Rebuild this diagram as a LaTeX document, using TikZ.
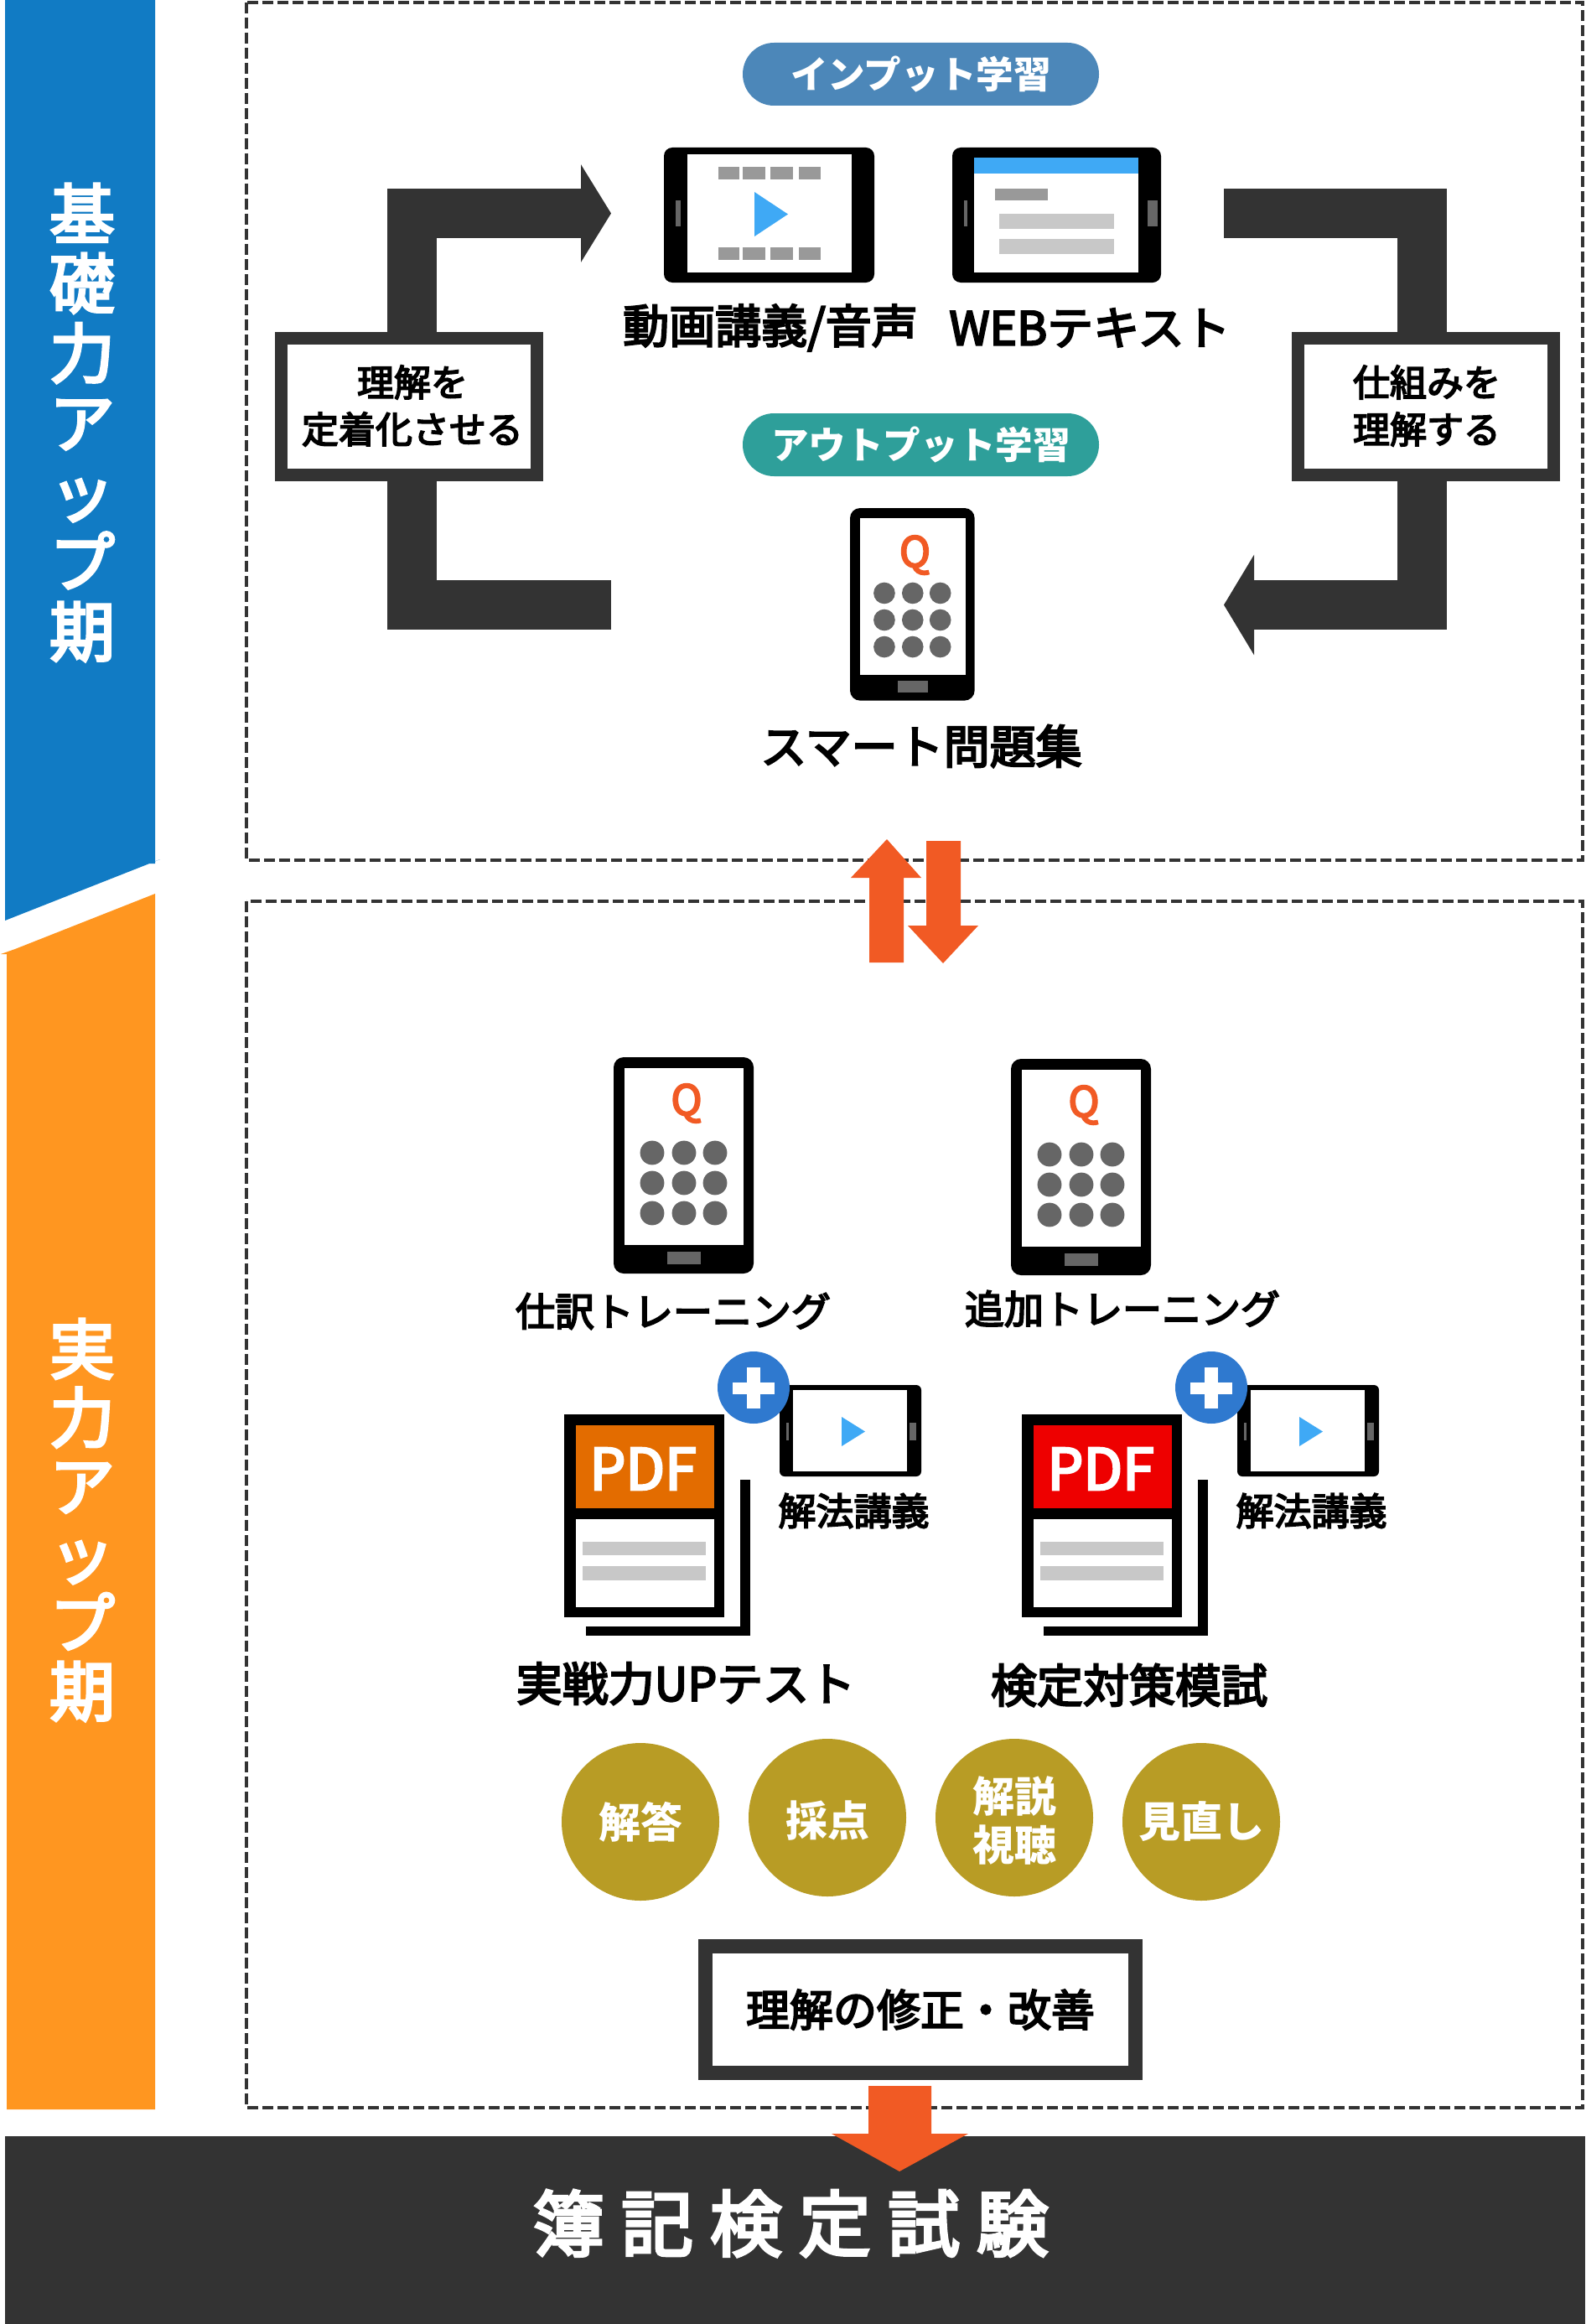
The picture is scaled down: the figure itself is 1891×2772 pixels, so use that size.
\documentclass[tikz,border=0pt]{standalone}
\usepackage{fontspec}
\setmainfont{Noto Sans CJK JP}
\newfontfamily\med{Noto Sans CJK JP}[FakeBold=4]
\usetikzlibrary{arrows.meta,calc,shapes.geometric}
\definecolor{dk}{HTML}{333333}
\definecolor{bandblue}{HTML}{117BC4}
\definecolor{bandorange}{HTML}{FF9620}
\definecolor{org}{HTML}{F15A24}
\definecolor{sky}{HTML}{3FA9F5}
\definecolor{g6}{HTML}{666666}
\definecolor{g9}{HTML}{999999}
\definecolor{gc}{HTML}{C8C8C8}
\definecolor{gold}{HTML}{B89C25}
\definecolor{plusblue}{HTML}{2F79CF}
\definecolor{pillblue}{HTML}{4C87B9}
\definecolor{pillteal}{HTML}{2E9F9A}
\definecolor{hdrorange}{HTML}{E36C00}
\definecolor{hdrred}{HTML}{EE0000}
\tikzset{
  dashbox/.style={draw=dk,line width=2pt,dash pattern=on 6.5pt off 2.5pt,inner sep=0pt,outer sep=0pt},
  blockline/.style={draw=dk,line width=29.5pt,line join=miter},
  msgbox/.style={draw=dk,line width=7.5pt,fill=white,inner sep=0pt,align=center},
  pill/.style={rectangle,rounded corners=18.7pt,inner sep=0pt,text=white,font=\fontsize{22.3}{26}\selectfont\bfseries,minimum width=212.5pt,minimum height=37.5pt},
  lab/.style={inner sep=0pt,font=\med\fontsize{27.5}{32}\selectfont},
  lablow/.style={inner sep=0pt,font=\med\fontsize{23.5}{28}\selectfont},
  labsm/.style={inner sep=0pt,font=\med\fontsize{22.5}{28}\selectfont},
  boxtxt/.style={inner sep=0pt,align=center,font=\med\fontsize{22}{28}\selectfont},
  goldc/.style={circle,fill=gold,inner sep=0pt,minimum size=94pt},
  goldtxt/.style={inner sep=0pt,text=white,align=center,font=\fontsize{25}{29}\selectfont\bfseries},
  sidetxt/.style={inner sep=0pt,text=white,align=center},
  plusc/.style={circle,fill=plusblue,inner sep=0pt,minimum size=43pt},
}
\newcommand{\phonefig}[5]{% name, x, y, scale, Q y
  \begin{scope}[shift={(#2,#3)},x=#4*0.5pt,y=-#4*0.5pt]
    \fill[black,rounded corners=6pt] (0,0) rectangle (167,258);
    \fill[white] (13,13) rectangle (155,224);
    \node[inner sep=0pt,text=org,font=\med\fontsize{25}{30}\selectfont] (#1q) at (87,#5) {Q};
    \foreach \cx in {46,84,121}\foreach \cy in {114,150,186}
      \fill[g6] (\cx,\cy) circle [radius=#4*7.2pt];
    \fill[g6] (64,232) rectangle (104,247);
  \end{scope}}
\newcommand{\docfig}[3]{% x offset, header colour, name
  \begin{scope}[shift={(#1,0)}]
    \fill[black] (883,1765) rectangle (895,1951);
    \fill[black] (699,1940) rectangle (895,1951);
    \fill[black] (673,1687) rectangle (864,1929);
    \fill[#2] (687,1700) rectangle (852,1799);
    \fill[white] (687,1812) rectangle (852,1917);
    \fill[gc] (695,1839) rectangle (842,1855);
    \fill[gc] (695,1868) rectangle (842,1885);
    \node[inner sep=0pt,text=white,font=\med\fontsize{34}{38}\selectfont] (#3pdf) at (767,1752) {PDF};
    \fill[black,rounded corners=3pt] (930,1652) rectangle (1099,1761);
    \fill[white] (946,1658) rectangle (1082,1755);
    \fill[sky] (1004,1690) -- (1032,1707.5) -- (1004,1725) -- cycle;
    \fill[g6] (938,1697) rectangle (941,1718);
    \fill[g6] (1085,1697) rectangle (1093,1718);
    \node[plusc] (#3plus) at (899,1655) {};
    \fill[white] (874,1649) rectangle (924,1663);
    \fill[white] (891,1631) rectangle (907,1680);
    \node[labsm] (#3lab) at (1018.5,1802) {解法講義};
  \end{scope}}
\begin{document}
\begin{tikzpicture}[x=0.5pt,y=-0.5pt]
\useasboundingbox (0,0) rectangle (1891,2772);
\fill[white] (0,0) rectangle (1891,2772);
% side bands
\fill[bandblue] (6,0) -- (185,0) -- (185,1030) -- (178,1030) -- (191,1025) -- (6,1098) -- cycle;
\fill[bandorange] (185,1066) -- (18,1132) -- (1,1138) -- (8,1138) -- (8,2516) -- (185,2516) -- cycle;
\node[sidetxt,font=\med\fontsize{39}{41.5}\selectfont] (sideA) at (98,504) {基\\礎\\力\\ア\\ッ\\プ\\期};
\node[sidetxt,font=\med\fontsize{39}{40.8}\selectfont] (sideB) at (98,1813) {実\\力\\ア\\ッ\\プ\\期};
% dashed frames
\draw[dashbox] (294,3) rectangle (1888,1026);
\draw[dashbox] (294,1075) rectangle (1888,2514);
% bottom band
\fill[dk] (6,2548) rectangle (1891,2772);
\node[inner sep=0pt,text=white,font=\med\fontsize{43}{50}\selectfont] (exam) at (943,2652) {簿\hspace{10pt}記\hspace{10pt}検\hspace{10pt}定\hspace{10pt}試\hspace{10pt}験};
% pills
\node[pill,fill=pillblue] (pillA) at (1098.5,88.5) {インプット学習};
\node[pill,fill=pillteal] (pillB) at (1098.5,530.5) {アウトプット学習};
% tablets
\fill[black,rounded corners=5pt] (792,176) rectangle (1043,337);
\fill[white] (820,184) rectangle (1016,325);
\foreach \a/\b in {857/882,886/913,919/946,953/979}{
  \fill[g9] (\a,199) rectangle (\b,214);
  \fill[g9] (\a,295) rectangle (\b,310);}
\fill[sky] (900,229) -- (940,255.5) -- (900,282) -- cycle;
\fill[g6] (806,239) rectangle (812,270);
\fill[black,rounded corners=5pt] (1136,176) rectangle (1385,337);
\fill[white] (1162,188) rectangle (1358,325);
\fill[sky] (1162,188) rectangle (1358,207);
\fill[g9] (1187,225) rectangle (1250,239);
\fill[gc] (1192,255) rectangle (1329,273);
\fill[gc] (1192,285) rectangle (1329,303);
\fill[g6] (1150,239) rectangle (1154,270);
\fill[g6] (1369,239) rectangle (1381,270);
\node[lab] (labA) at (919,391) {動画講義/音声};
\node[lab] (labB) at (1300,391) {WEBテキスト};
% phones
\phonefig{phA}{1014}{606}{0.89}{63}
\node[lab] (labC) at (1099,890) {スマート問題集};
\phonefig{phB}{732}{1261}{1}{55}
\phonefig{phC}{1206}{1263}{1}{55}
\node[lablow] (labD) at (803,1564) {仕訳トレーニング};
\node[lablow] (labE) at (1339,1561) {追加トレーニング};
% docs
\docfig{0}{hdrorange}{dA}
\docfig{546}{hdrred}{dB}
\node[lab] (labF) at (818,2008) {実戦力UPテスト};
\node[lab] (labG) at (1347,2010) {検定対策模試};
% gold circles
\node[goldc] (g1) at (764,2173) {};
\node[goldc] (g2) at (987,2168) {};
\node[goldc] (g3) at (1210,2168) {};
\node[goldc] (g4) at (1433,2173) {};
\node[goldtxt] (t1) at (764,2173) {解答};
\node[goldtxt] (t2) at (987,2171) {採点};
\node[goldtxt] (t3) at (1210,2171) {解説\\視聴};
\node[goldtxt] (t4) at (1433,2173) {見直し};
% boxes
\node[msgbox,minimum width=152.5pt,minimum height=81.5pt] (boxL) at (487.5,485) {};
\node[boxtxt] (txtL) at (492,484) {理解を\\定着化させる};
\node[msgbox,minimum width=152.5pt,minimum height=81.5pt] (boxR) at (1700.5,485) {};
\node[boxtxt] (txtR) at (1702,484) {仕組みを\\理解する};
\node[msgbox,line width=8.5pt,minimum width=256.5pt,minimum height=75.5pt,font=\med\fontsize{26}{30}\selectfont] (boxF) at (1098,2397) {理解の修正・改善};
% block arrows
\coordinate (ltipU) at (729,254.5);
\coordinate (lbendU) at (491.5,254.5);
\coordinate (lendD) at (729,721.5);
\coordinate (lbendD) at (491.5,721.5);
\coordinate (rstartU) at (1460,254.5);
\coordinate (rbendU) at (1696.5,254.5);
\coordinate (rbendD) at (1696.5,721.5);
\coordinate (rtipD) at (1460,721.5);
\draw[blockline,-{Triangle[length=18pt,width=57.5pt]}] (lbendU |- boxL.north) -- (lbendU) -- (ltipU);
\draw[blockline] (lbendD |- boxL.south) -- (lbendD) -- (lendD);
\draw[blockline] (rstartU) -- (rbendU) -- (rbendU |- boxR.north);
\draw[blockline,-{Triangle[length=18pt,width=59pt]}] (rbendD |- boxR.south) -- (rbendD) -- (rtipD);
% orange block arrows
\fill[org] (1037,1148) -- (1037,1047) -- (1015,1047) -- (1058,1001) -- (1099,1047) -- (1078,1047) -- (1078,1148) -- cycle;
\fill[org] (1105,1003) -- (1146,1003) -- (1146,1104) -- (1167,1104) -- (1125,1149) -- (1083,1104) -- (1105,1104) -- cycle;
\fill[org] (1036,2488) -- (1111,2488) -- (1111,2545) -- (1155,2545) -- (1073,2590) -- (992,2545) -- (1036,2545) -- cycle;
\end{tikzpicture}
\end{document}
